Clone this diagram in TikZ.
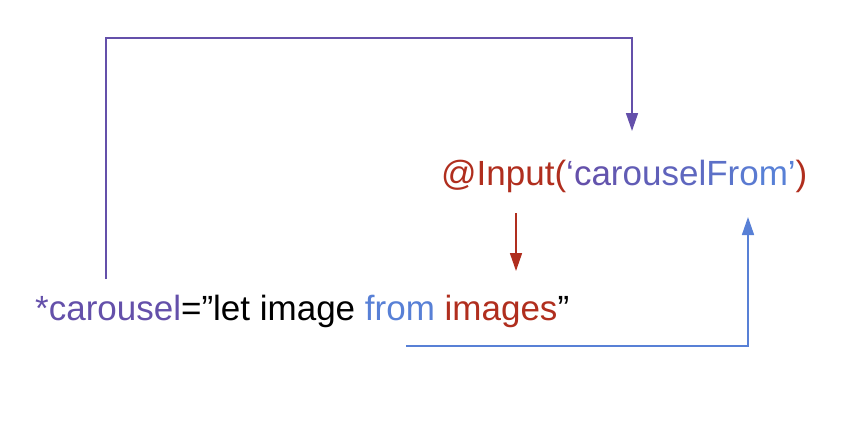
\documentclass[tikz,border=0pt]{standalone}
\usepackage{fontspec}
\setmainfont{Liberation Sans}
\usetikzlibrary{arrows.meta}
\definecolor{cpurple}{RGB}{100,80,170}
\definecolor{cblue}{RGB}{88,128,214}
\definecolor{cred}{RGB}{176,46,30}
\tikzset{
  txt/.style={anchor=base west, inner sep=0pt, font=\fontsize{35}{40}\selectfont},
  conn/.style={line width=1.6pt, -{Triangle[length=18pt,width=12pt]}},
}
\newcommand{\gradword}{%
\textcolor{cpurple}{c}\textcolor{cpurple!92!cblue}{a}\textcolor{cpurple!84!cblue}{r}%
\textcolor{cpurple!76!cblue}{o}\textcolor{cpurple!68!cblue}{u}\textcolor{cpurple!60!cblue}{s}%
\textcolor{cpurple!52!cblue}{e}\textcolor{cpurple!44!cblue}{l}\textcolor{cpurple!34!cblue}{F}%
\textcolor{cpurple!24!cblue}{r}\textcolor{cpurple!12!cblue}{o}\textcolor{cblue}{m}}
\begin{document}
\begin{tikzpicture}[x=1pt,y=-1pt]
\useasboundingbox (0,0) rectangle (866,424);
\node[txt] (inp) at (441,185) {\textcolor{cred}{@Input(}\textcolor{cpurple}{‘}\gradword\textcolor{cblue}{’}\textcolor{cred}{)}};
\node[txt] (car) at (35,320) {\textcolor{cpurple}{*carousel}=”let image \textcolor{cblue}{from} \textcolor{cred}{images}”};
\coordinate (p0) at (106,279);
\coordinate (p1) at (632,131);
\coordinate (r0) at (516,213);
\coordinate (r1) at (516,271);
\coordinate (b0) at (406,346);
\coordinate (b1) at (748,217);
\draw[conn, cpurple] (p0) |- (632,38) -- (p1);
\draw[conn, cred] (r0) -- (r1);
\draw[conn, cblue] (b0) -| (b1);
\end{tikzpicture}
\end{document}
